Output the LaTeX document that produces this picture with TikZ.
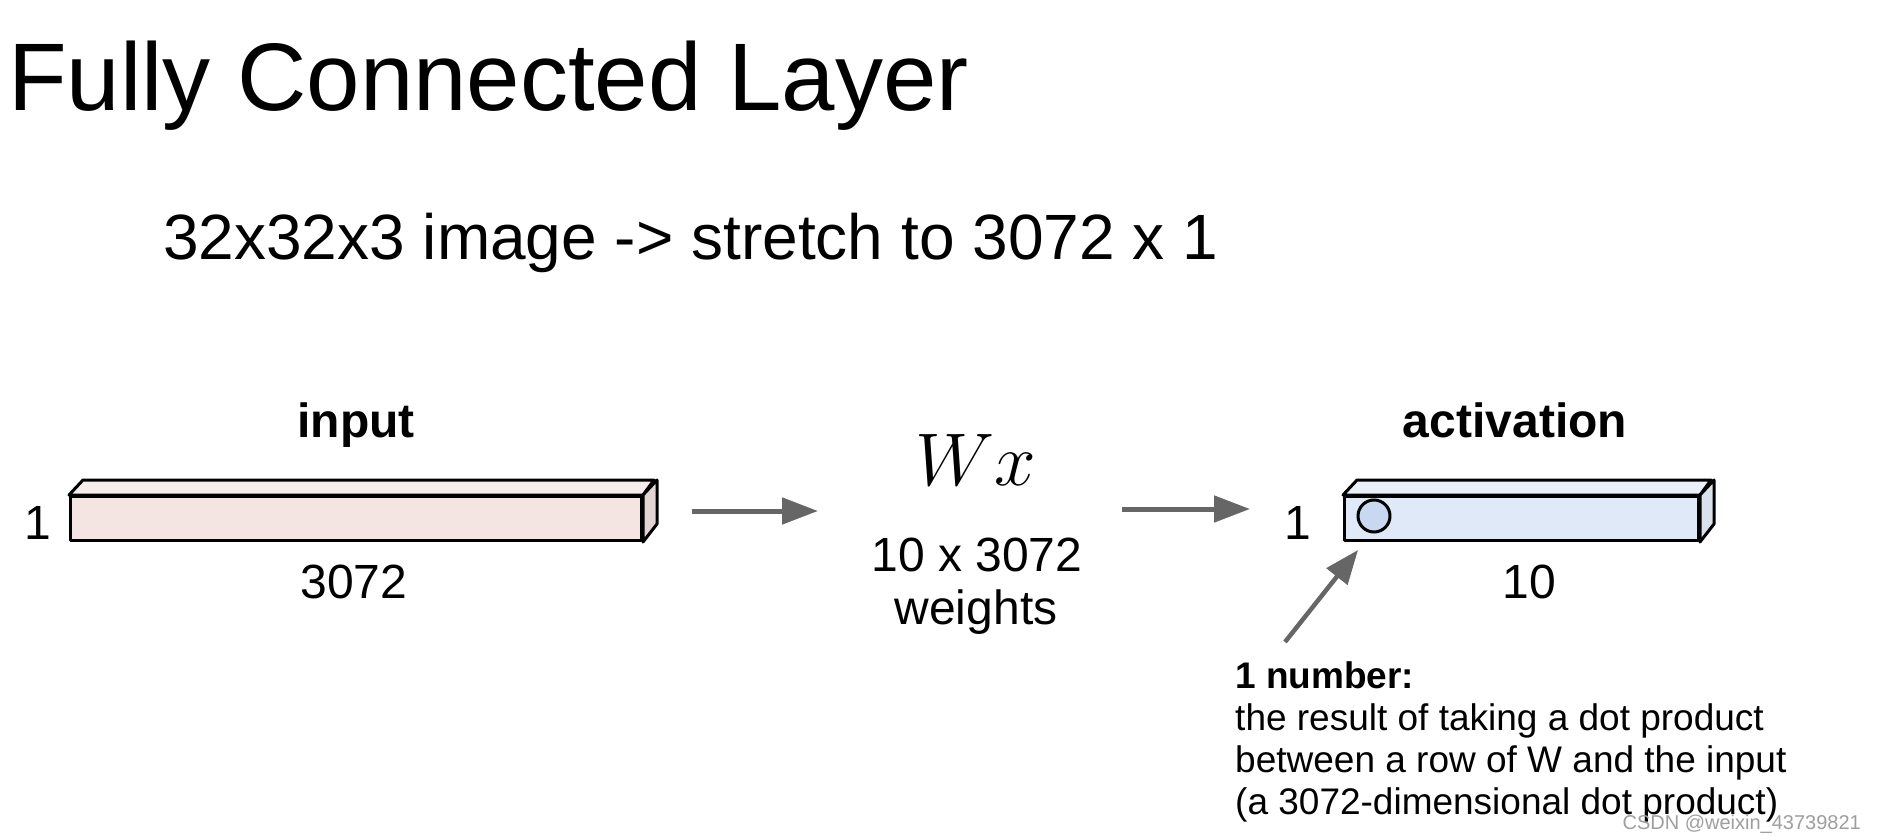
\documentclass[tikz,border=0pt]{standalone}
\usepackage{fontspec}
\setmainfont{Liberation Sans}
\usetikzlibrary{arrows.meta}
\definecolor{inFront}{HTML}{F4E4E2}
\definecolor{inTop}{HTML}{F7EDEC}
\definecolor{inSide}{HTML}{E3D4D4}
\definecolor{acFront}{HTML}{DFE9F7}
\definecolor{acTop}{HTML}{E9F0F9}
\definecolor{acSide}{HTML}{D9E1EC}
\definecolor{dotFill}{HTML}{C8D8F0}
\definecolor{arrowGray}{HTML}{666666}
\tikzset{
  face/.style={draw=black, line width=3pt, line join=round},
  frontbox/.style={face, rectangle, inner sep=0pt, anchor=north west},
  flowarrow/.style={draw=arrowGray, line width=5pt, -{Triangle[length=36pt,width=26pt]}},
  lbl/.style={font=\fontsize{48}{48}\selectfont, anchor=base, inner sep=0pt},
  bold lbl/.style={lbl, font=\fontsize{48}{48}\selectfont\bfseries},
}
\begin{document}
\begin{tikzpicture}[x=1pt,y=-1pt]
\useasboundingbox[fill=white] (0,0) rectangle (1877,840);

% title and subtitle
\node[anchor=base west, inner sep=0pt, font=\fontsize{96}{96}\selectfont] (title) at (8,111) {Fully Connected Layer};
\node[anchor=base west, inner sep=0pt, font=\fontsize{64}{64}\selectfont] (sub) at (163,259) {32x32x3 image -> stretch to 3072 x 1};

% input bar
\node[bold lbl] (inlbl) at (356,437) {input};
\node[frontbox, fill=inFront, minimum width=571pt, minimum height=44pt] (inbox) at (69,495) {};
\filldraw[face, fill=inTop] (inbox.north west) -- ++(14,-15) -- ++(571,0) -- (inbox.north east) -- cycle;
\filldraw[face, fill=inSide] (inbox.north east) -- ++(14,-15) -- ++(0,44) -- (inbox.south east) -- cycle;
\node[lbl] (inone) at (38,539) {1};
\node[lbl] (innum) at (354,598) {3072};

% first arrow
\coordinate (a1s) at (692,511);
\coordinate (a1e) at (818,511);
\draw[flowarrow] (a1s) -- (a1e);

% Wx
\node[anchor=base, inner sep=0pt] (wx) at (976,485) {\scalebox{3}{\fontsize{24}{24}\selectfont$Wx$}};
\node[lbl] (wdim) at (977,571) {10 x 3072};
\node[lbl] (wlbl) at (976,624) {weights};

% second arrow
\coordinate (a2s) at (1122,509);
\coordinate (a2e) at (1250,509);
\draw[flowarrow] (a2s) -- (a2e);

% activation bar
\node[bold lbl] (aclbl) at (1515,437) {activation};
\node[frontbox, fill=acFront, minimum width=354pt, minimum height=44pt] (acbox) at (1343,495) {};
\filldraw[face, fill=acTop] (acbox.north west) -- ++(14,-15) -- ++(354,0) -- (acbox.north east) -- cycle;
\filldraw[face, fill=acSide] (acbox.north east) -- ++(14,-15) -- ++(0,44) -- (acbox.south east) -- cycle;
\node[draw=black, line width=3pt, fill=dotFill, circle, minimum size=32pt, inner sep=0pt] (dot) at (1374,516) {};
\node[lbl] (acone) at (1298,539) {1};
\node[lbl] (acnum) at (1529,598) {10};

% pointer
\coordinate (ps) at (1285,642);
\coordinate (pe) at (1358,550);
\draw[draw=arrowGray, line width=4.5pt, -{Triangle[length=34pt,width=26pt]}] (ps) -- (pe);

% note
\node[anchor=base west, inner sep=0pt, font=\fontsize{37}{42}\selectfont, align=left] (note) at (1235,814)
  {\textbf{1 number:}\\the result of taking a dot product\\between a row of W and the input\\(a 3072-dimensional dot product)};

% watermark
\node[anchor=base east, inner sep=0pt, font=\fontsize{20}{20}\selectfont, text=black!38] (wm) at (1861,829) {CSDN @weixin\_43739821};
\end{tikzpicture}
\end{document}
